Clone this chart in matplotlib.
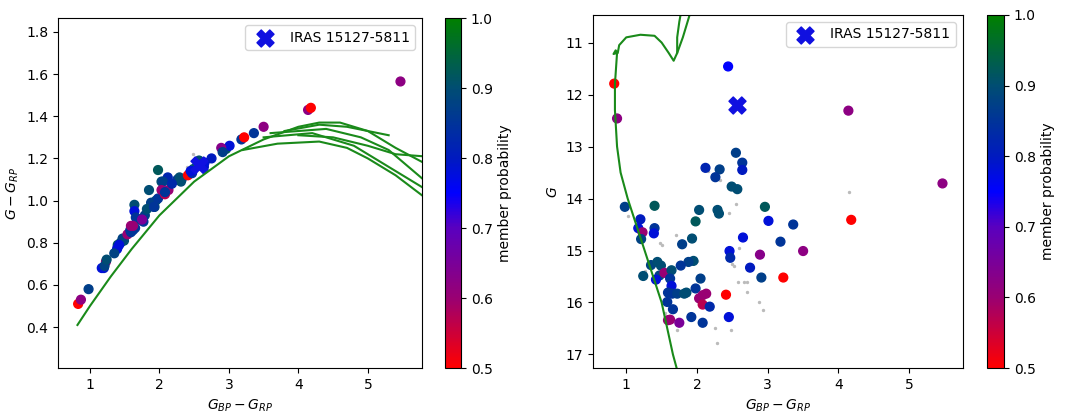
import matplotlib
matplotlib.use("Agg")
import matplotlib.pyplot as plt
from matplotlib.colors import LinearSegmentedColormap
import numpy as np

bp_rp = [0.83,0.87,2.44,4.14,5.47,4.18,2.55,2.64,2.64,2.12,2.32,2.26,2.49,2.57,0.98,1.40,1.20,1.17,1.23,1.21,
         1.40,1.39,2.03,2.29,2.31,1.98,2.96,3.01,3.36,2.65,3.18,3.50,2.89,2.75,2.91,3.22,2.41,2.46,2.47,1.79,
         1.93,1.95,1.88,1.77,1.35,1.44,1.49,1.24,1.47,1.54,1.42,1.64,1.62,1.64,1.59,1.65,1.72,1.82,1.85,1.98,
         2.05,2.03,2.08,2.13,2.08,2.18,1.58,1.66,1.59,1.62,1.75,1.92,2.08,2.45]
gmag = [11.79,12.46,11.46,12.31,13.71,14.41,13.12,13.31,13.45,13.41,13.44,13.59,13.77,13.82,14.16,14.14,14.40,14.57,14.65,14.78,
        14.57,14.67,14.22,14.22,14.29,14.44,14.16,14.43,14.50,14.75,14.83,15.01,15.08,15.33,15.52,15.52,15.85,15.01,15.14,14.88,
        14.77,15.20,15.22,15.29,15.28,15.22,15.29,15.49,15.48,15.43,15.56,15.38,15.54,15.68,15.81,15.83,15.83,15.83,15.81,15.73,
        15.54,15.92,15.86,15.83,16.04,16.08,15.99,16.13,16.34,16.33,16.39,16.28,16.39,16.28]
g_grp = [0.51,0.53,1.13,1.43,1.565,1.44,1.17,1.18,1.16,1.11,1.10,1.10,1.15,1.19,0.58,0.79,0.68,0.68,0.71,0.69,
         0.78,0.77,1.09,1.11,1.09,1.145,1.245,1.26,1.32,1.18,1.29,1.35,1.25,1.20,1.23,1.30,1.12,1.14,1.13,0.93,
         0.97,1.00,0.99,0.90,0.75,0.80,0.81,0.72,0.82,0.84,0.79,0.98,0.86,0.95,0.85,0.87,0.91,0.96,1.05,1.01,
         1.09,1.05,1.04,1.05,1.03,1.08,0.86,0.92,0.88,0.88,0.91,0.97,1.04,1.14]
prob = [0.50,0.62,0.75,0.62,0.62,0.50,0.87,0.85,0.80,0.82,0.87,0.85,0.90,0.90,0.87,0.92,0.80,0.78,0.60,0.88,
        0.85,0.78,0.90,0.90,0.90,0.92,0.92,0.78,0.85,0.78,0.85,0.62,0.63,0.80,0.87,0.50,0.50,0.78,0.83,0.87,
        0.90,0.90,0.87,0.85,0.88,0.90,0.90,0.90,0.88,0.60,0.78,0.90,0.85,0.78,0.85,0.85,0.87,0.90,0.90,0.85,
        0.87,0.60,0.60,0.60,0.57,0.83,0.85,0.85,0.60,0.60,0.65,0.85,0.85,0.78]

grey_bp = [1.02,1.27,1.48,1.50,1.70,2.15,2.33,2.45,2.50,2.53,2.55,2.58,2.60,2.67,2.70,2.70,2.88,2.93,4.15,1.72,2.28,2.48,2.25,1.55,2.00]
grey_g  = [14.33,15.40,14.85,14.90,14.70,13.48,13.65,14.27,15.25,15.30,14.10,15.60,14.95,15.60,15.80,15.60,16.00,16.15,13.87,16.53,16.78,16.53,16.50,16.20,15.20]
grey_left_bp = [2.40,2.48,2.55,2.60]
grey_left_g = [1.16,1.22,1.20,1.15]

iras_bp = 2.57
iras_g = 12.2
iras_ggrp = 1.17

iso_l = [
 ([0.82,1.0,1.3,1.6,2.0,2.5,3.0,3.5,4.0,4.3,4.6,5.0,5.4,5.8],[0.41,0.50,0.64,0.77,0.93,1.09,1.21,1.29,1.35,1.37,1.37,1.33,1.25,1.18]),
 ([3.2,3.7,4.3,4.7,5.0,5.4,5.8],[1.24,1.27,1.28,1.25,1.20,1.12,1.02]),
 ([3.5,4.2,4.8,5.2,5.5,5.8],[1.30,1.32,1.26,1.18,1.12,1.06]),
 ([3.8,4.3,4.7,5.0,5.3],[1.33,1.36,1.35,1.33,1.31]),
 ([4.0,4.5,5.0,5.4,5.8],[1.31,1.30,1.26,1.22,1.21]),
 ([3.6,4.4,4.9,5.3,5.8],[1.32,1.34,1.30,1.24,1.10]),
]
iso_r_bp = [1.72,1.66,1.50,1.26,1.02,0.92,0.87,0.84,0.84,0.86,0.87,0.82,0.85,0.88,0.9,1.0,1.2,1.4,1.5,1.6,1.67,1.72,1.72,1.75,1.77]
iso_r_g = [17.3,17.0,16.0,15.0,14.0,13.5,13.0,12.3,11.8,11.4,11.2,11.22,11.15,11.2,11.05,10.9,10.85,10.87,11.0,11.2,11.35,11.2,10.9,10.6,10.45]
iso_r2_bp = [1.72,1.8,1.9]
iso_r2_g = [11.2,10.9,10.45]

cmap = LinearSegmentedColormap.from_list("mp", [
    (0.0,(1,0,0)),(0.2,(0.6,0,0.45)),(0.4,(0.35,0,0.75)),(0.5,(0,0,1)),
    (0.6,(0,0.1,0.75)),(0.8,(0,0.3,0.45)),(1.0,(0,0.5,0))])

fig = plt.figure(figsize=(10.75,4.2), dpi=100)
ax1 = fig.add_axes([58/1075, 52/420, 364/1075, 350/420])
cax1 = fig.add_axes([445/1075, 52/420, 16/1075, 350/420])
ax2 = fig.add_axes([593/1075, 52/420, 370/1075, 353/420])
cax2 = fig.add_axes([987/1075, 52/420, 17/1075, 353/420])

green = "#1a8a1a"
for xs, ys in iso_l:
    ax1.plot(xs, ys, color=green, lw=1.5)
ax1.scatter(grey_left_bp, grey_left_g, s=2, c="#bbbbbb")
sc = ax1.scatter(bp_rp, g_grp, c=prob, cmap=cmap, vmin=0.5, vmax=1.0, s=40)
ax1.scatter([iras_bp],[iras_ggrp], marker="X", s=150, color="#1010e0", label="IRAS 15127-5811")
ax1.set_xlim(0.54,5.78); ax1.set_ylim(0.206,1.866)
ax1.set_xlabel(r"$G_{BP}-G_{RP}$"); ax1.set_ylabel(r"$G-G_{RP}$")
ax1.legend(loc="upper right")
cb = fig.colorbar(sc, cax=cax1); cb.set_label("member probability"); cb.set_ticks([0.5,0.6,0.7,0.8,0.9,1.0])

ax2.plot(iso_r_bp, iso_r_g, color=green, lw=1.5)
ax2.plot(iso_r2_bp, iso_r2_g, color=green, lw=1.5)
ax2.scatter(grey_bp, grey_g, s=2, c="#bbbbbb")
sc2 = ax2.scatter(bp_rp, gmag, c=prob, cmap=cmap, vmin=0.5, vmax=1.0, s=40)
ax2.scatter([iras_bp],[iras_g], marker="X", s=150, color="#1010e0", label="IRAS 15127-5811")
ax2.set_xlim(0.53,5.76); ax2.set_ylim(17.26,10.47)
ax2.set_xlabel(r"$G_{BP}-G_{RP}$"); ax2.set_ylabel(r"$G$")
ax2.legend(loc="upper right")
cb2 = fig.colorbar(sc2, cax=cax2); cb2.set_label("member probability"); cb2.set_ticks([0.5,0.6,0.7,0.8,0.9,1.0])

fig.savefig("out.png", dpi=100)
